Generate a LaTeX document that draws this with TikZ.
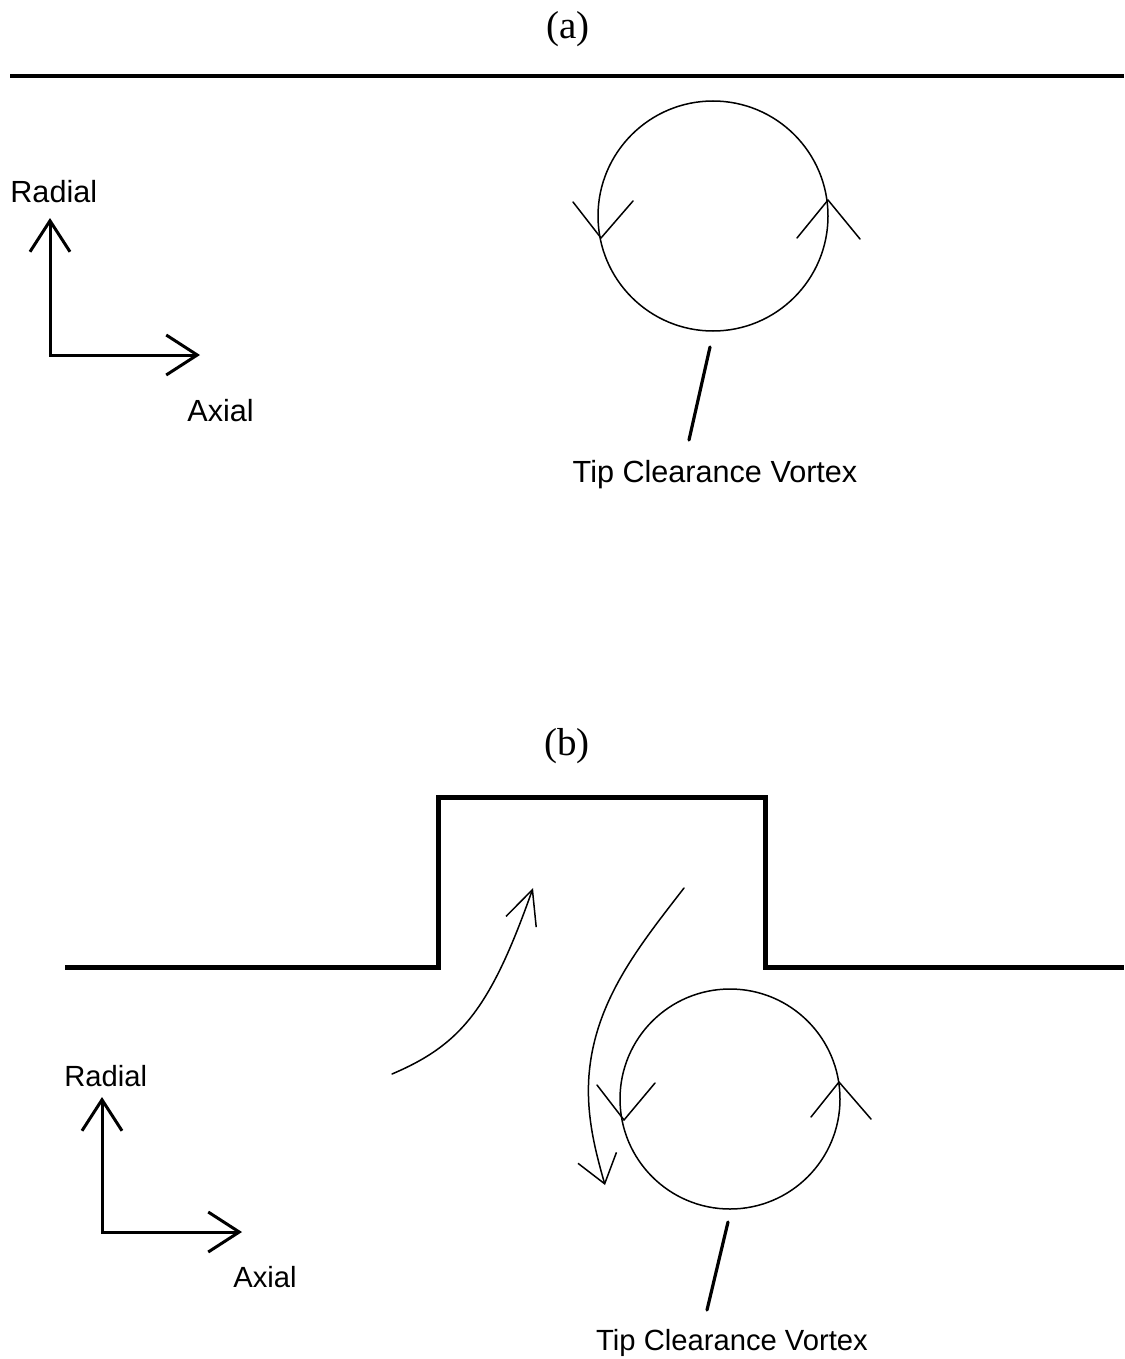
\documentclass[tikz,border=0pt]{standalone}
\usepackage{fontspec}
\setmainfont{Liberation Serif}
\newfontfamily\labelfont{Liberation Sans}
\usetikzlibrary{arrows.meta}
\begin{document}
\begin{tikzpicture}[x=0.5pt, y=-0.5pt,
  thin/.style={line width=0.75pt, line cap=round, line join=round},
  wall/.style={line width=2.5pt, line join=miter},
  axis/.style={line width=1.5pt, line join=miter},
  leader/.style={line width=1.6pt, line cap=round},
  panel/.style={font=\fontsize{19.5pt}{22pt}\selectfont, inner sep=0pt},
  lbl/.style={font=\labelfont\fontsize{#1}{17pt}\selectfont, inner sep=0pt},
  lbl/.default=14.6pt,
  axbarb/.tip={Straight Barb[length=15.5pt, width=20pt]},
  flowbarb/.tip={Straight Barb[length=17pt, width=16pt]},
  ebbbarb/.tip={Straight Barb[length=13.5pt, width=20pt]}]
\useasboundingbox (0,0) rectangle (1124,1359);

% ---------------- panel (a): plain casing ----------------
\node[panel] (ta) at (568,29) {(a)};
\coordinate (casL) at (10,76);
\coordinate (casR) at (1124,76);
\draw[line width=2pt] (casL) -- (casR);

% vortex
\node[draw, circle, thin, minimum size=115pt, inner sep=0pt] (va) at (713,216) {};
\coordinate (vaL) at (601,238);
\coordinate (vaR) at (828,200);
\draw[thin] (573,202) -- (vaL) -- (633,201);
\draw[thin] (797,238) -- (vaR) -- (860,239);

\node[lbl=15.3pt, anchor=base] (tcva) at (715,482) {Tip Clearance Vortex};
\coordinate (lda1) at (710,347);
\coordinate (lda2) at (689,440);
\draw[leader] (lda1) -- (lda2);

% axes
\coordinate (oa) at (50,355);
\coordinate (ra) at (50,218);
\coordinate (xa) at (200,355);
\draw[axis, axbarb-axbarb] (ra) -- (oa) -- (xa);
\node[lbl=15.3pt, anchor=base west] (rla) at (10,202) {Radial};
\node[lbl=15.3pt, anchor=base west] (xla) at (187,421) {Axial};

% ---------------- panel (b): casing with recess ----------------
\node[panel] (tb) at (567,746) {(b)};
\coordinate (p1) at (65,967);
\coordinate (p2) at (438,967);
\coordinate (p3) at (438,797);
\coordinate (p4) at (765,797);
\coordinate (p5) at (765,967);
\coordinate (p6) at (1124,967);
\draw[wall] (p1) -- (p2) -- (p3) -- (p4) -- (p5) -- (p6);

% vortex
\node[draw, circle, thin, minimum size=110pt, inner sep=0pt] (vb) at (730,1099) {};
\coordinate (vbL) at (624,1120);
\coordinate (vbR) at (839,1082);
\draw[thin] (597,1085) -- (vbL) -- (655,1083);
\draw[thin] (811,1117) -- (vbR) -- (871,1119);

% flow into the recess and back out around the vortex
\coordinate (inS) at (392,1074);
\coordinate (inE) at (533,888);
\draw[thin, -flowbarb] (inS) .. controls (460,1045) and (490,1010) .. (inE);
\coordinate (outS) at (684,888);
\coordinate (outM) at (589,1075);
\coordinate (outE) at (605,1185);
\draw[thin, -ebbbarb] (outS) .. controls (640,945) and (595,1000) .. (outM)
  .. controls (586,1115) and (595,1150) .. (outE);

\node[lbl, anchor=base] (tcvb) at (732,1350) {Tip Clearance Vortex};
\coordinate (ldb1) at (728,1222);
\coordinate (ldb2) at (707,1310);
\draw[leader] (ldb1) -- (ldb2);

% axes
\coordinate (ob) at (102,1232);
\coordinate (rb) at (102,1097);
\coordinate (xb) at (242,1232);
\draw[axis, axbarb-axbarb] (rb) -- (ob) -- (xb);
\node[lbl, anchor=base west] (rlb) at (64,1086) {Radial};
\node[lbl, anchor=base west] (xlb) at (233,1287) {Axial};
\end{tikzpicture}
\end{document}
